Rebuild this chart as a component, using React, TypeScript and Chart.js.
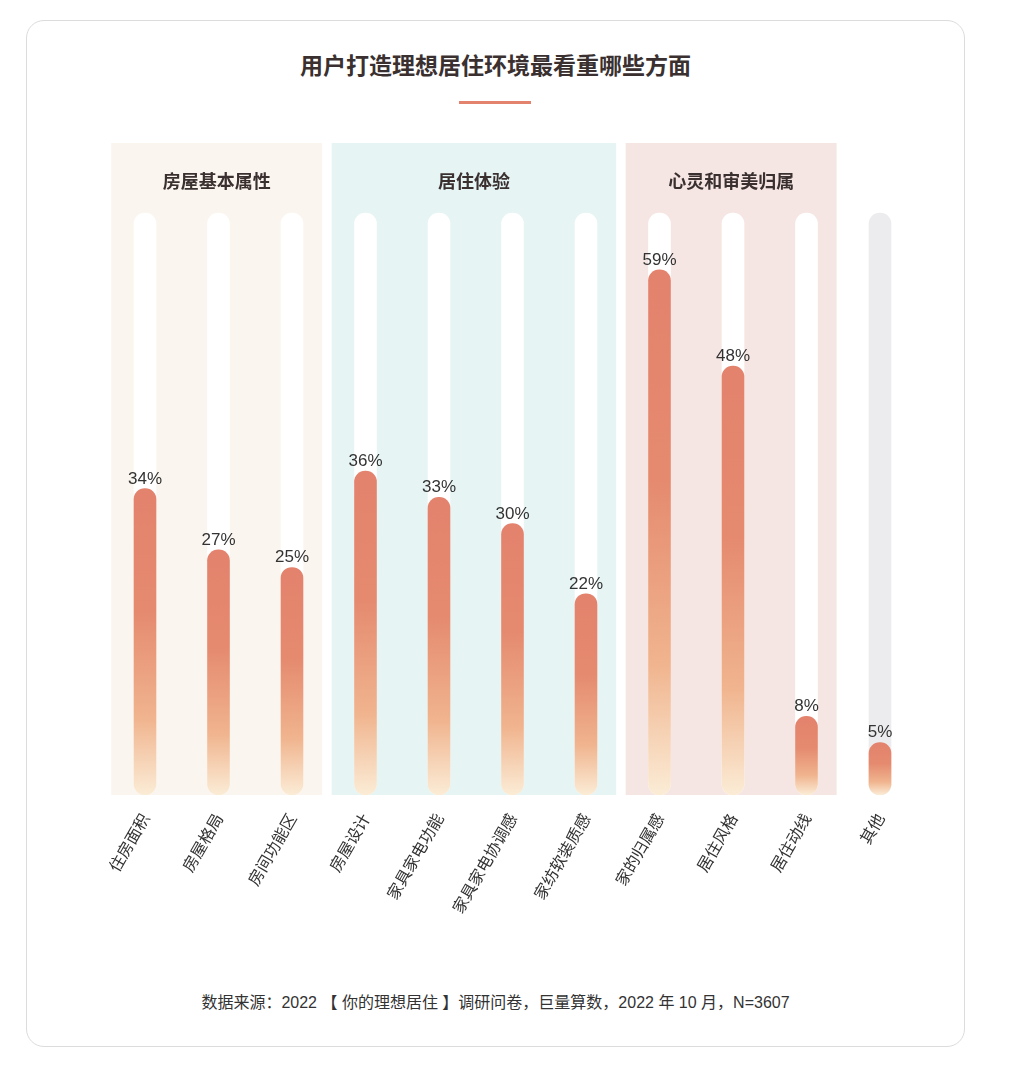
import { useEffect, useRef } from 'react'
import { Chart, registerables, type Plugin } from 'chart.js'

Chart.register(...registerables)

const TITLE = '用户打造理想居住环境最看重哪些方面'
const SOURCE = '数据来源：2022 【 你的理想居住 】调研问卷，巨量算数，2022 年 10 月，N=3607'

const CATEGORIES = [
  '住房面积', '房屋格局', '房间功能区',
  '房屋设计', '家具家电功能', '家具家电协调感', '家纺软装质感',
  '家的归属感', '居住风格', '居住动线',
  '其他',
]
const VALUES = [34, 27, 25, 36, 33, 30, 22, 59, 48, 8, 5]

// groups: name + first/last category index
const GROUP_NAMES = ['房屋基本属性', '居住体验', '心灵和审美归属']
const GROUP_START = [0, 3, 7]
const GROUP_END = [2, 6, 9]
const GROUP_COLORS = ['#fbf5ef', '#e6f4f3', '#f6e6e3']

const TRACK_MAX = 65.5
const AXIS_MIN = -1
const AXIS_MAX = 73.5

const FONT_CN = "'Noto Sans CJK SC', 'Noto Sans', sans-serif"
const FONT_NUM = "'Liberation Sans', Arial, 'Noto Sans CJK SC', sans-serif"
const TEXT = '#333333'

const inGroup = (i: number) => GROUP_START.some((s, g) => i >= s && i <= GROUP_END[g])

const bandsPlugin: Plugin<'bar'> = {
  id: 'bands',
  beforeDatasetsDraw(chart) {
    const { ctx, chartArea, scales } = chart
    const x = scales.x
    const w = x.getPixelForValue(1) - x.getPixelForValue(0)
    ctx.save()
    GROUP_NAMES.forEach((name, g) => {
      const left = x.getPixelForValue(GROUP_START[g]) - w * 0.46
      const right = x.getPixelForValue(GROUP_END[g]) + w * 0.41
      ctx.fillStyle = GROUP_COLORS[g]
      ctx.fillRect(left, chartArea.top, right - left, chartArea.bottom - chartArea.top)
      ctx.fillStyle = '#3a3030'
      ctx.font = `bold 18px ${FONT_CN}`
      ctx.textAlign = 'center'
      ctx.textBaseline = 'middle'
      ctx.fillText(name, (left + right) / 2, chartArea.top + 38)
    })
    ctx.restore()
  },
}

const valueLabels: Plugin<'bar'> = {
  id: 'valueLabels',
  afterDatasetsDraw(chart) {
    const { ctx } = chart
    const meta = chart.getDatasetMeta(0)
    ctx.save()
    ctx.fillStyle = TEXT
    ctx.font = `17px ${FONT_NUM}`
    ctx.textAlign = 'center'
    ctx.textBaseline = 'alphabetic'
    meta.data.forEach((bar, i) => {
      ctx.fillText(`${VALUES[i]}%`, bar.x, bar.y - 5)
    })
    ctx.restore()
  },
}

function BarChart() {
  const chartRef = useRef<HTMLCanvasElement>(null)
  const chartInstance = useRef<Chart | null>(null)

  useEffect(() => {
    if (!chartRef.current) return
    if (chartInstance.current) chartInstance.current.destroy()
    const ctx = chartRef.current.getContext('2d')
    if (!ctx) return

    chartInstance.current = new Chart(ctx, {
      type: 'bar',
      data: {
        labels: CATEGORIES,
        datasets: [
          {
            data: VALUES,
            base: AXIS_MIN,
            grouped: false,
            order: 0,
            barThickness: 22,
            borderRadius: 11,
            borderSkipped: false,
            backgroundColor: (c: any) => {
              const chart = c.chart
              const y = chart.scales?.y
              if (!chart.chartArea || !y || c.type !== 'data') return '#e3826d'
              const top = y.getPixelForValue(c.raw as number)
              const bottom = y.getPixelForValue(AXIS_MIN)
              const g = chart.ctx.createLinearGradient(0, top, 0, bottom)
              g.addColorStop(0, '#e3826d')
              g.addColorStop(0.4, '#e58a6f')
              g.addColorStop(0.75, '#f0b48e')
              g.addColorStop(1, '#fbecd6')
              return g
            },
          },
          {
            data: CATEGORIES.map(() => TRACK_MAX),
            base: AXIS_MIN,
            grouped: false,
            order: 1,
            barThickness: 22,
            borderRadius: 11,
            borderSkipped: false,
            backgroundColor: CATEGORIES.map((_, i) => (inGroup(i) ? '#ffffff' : '#ececee')),
          },
        ],
      },
      options: {
        animation: false,
        responsive: false,
        maintainAspectRatio: false,
        layout: {
          padding: { top: 13, left: 82.25, right: 48.25, bottom: 15 },
        },
        plugins: {
          legend: { display: false },
          tooltip: { enabled: false },
        },
        scales: {
          x: {
            grid: { display: false },
            border: { display: false },
            afterFit: (scale: any) => {
              scale.height = 150
            },
            ticks: {
              autoSkip: false,
              minRotation: 60,
              maxRotation: 60,
              padding: 7,
              color: TEXT,
              font: { size: 16, family: FONT_CN },
            },
          },
          y: {
            display: false,
            min: AXIS_MIN,
            max: AXIS_MAX,
          },
        },
      },
      plugins: [bandsPlugin, valueLabels],
    })

    return () => {
      if (chartInstance.current) {
        chartInstance.current.destroy()
        chartInstance.current = null
      }
    }
  }, [])

  return <canvas ref={chartRef} width={939} height={830} style={{ width: 939, height: 830 }} />
}

export default function App() {
  return (
    <div
      style={{
        position: 'absolute',
        left: 26,
        top: 20,
        width: 939,
        height: 1027,
        boxSizing: 'border-box',
        border: '1px solid #dcdcdc',
        borderRadius: 18,
        background: '#fff',
        fontFamily: FONT_CN,
      }}
    >
      <div
        style={{
          position: 'absolute',
          top: 27,
          left: 0,
          right: 0,
          textAlign: 'center',
          fontSize: 23,
          lineHeight: '32px',
          fontWeight: 'bold',
          color: '#3a3030',
        }}
      >
        {TITLE}
      </div>
      <div
        style={{
          position: 'absolute',
          top: 80,
          left: 432,
          width: 72,
          height: 3,
          background: '#e3836e',
        }}
      />
      <div style={{ position: 'absolute', top: 109, left: -1 }}>
        <BarChart />
      </div>
      <div
        style={{
          position: 'absolute',
          top: 971,
          left: 0,
          right: 0,
          textAlign: 'center',
          fontSize: 16,
          lineHeight: '22px',
          color: TEXT,
          fontFamily: FONT_NUM,
        }}
      >
        {SOURCE}
      </div>
    </div>
  )
}
